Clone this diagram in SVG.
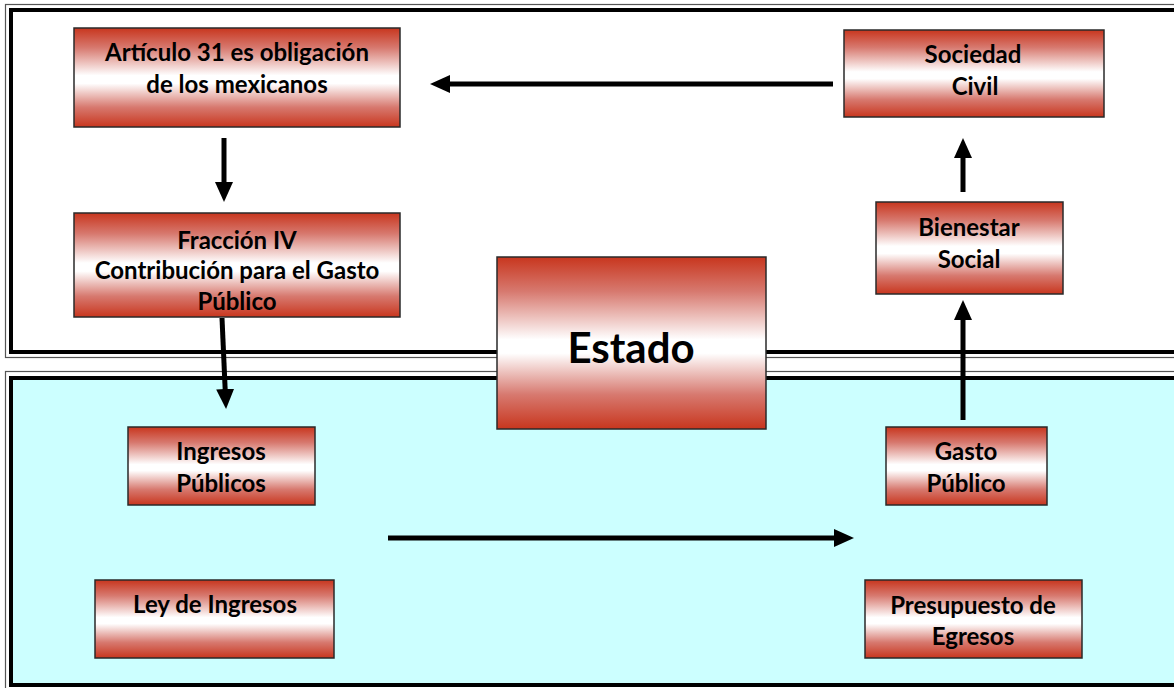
<svg xmlns="http://www.w3.org/2000/svg" width="1174" height="688" viewBox="0 0 1174 688">
<defs>
<linearGradient id="rg" x1="0" y1="0" x2="0" y2="1">
<stop offset="0" stop-color="#C8361E"/>
<stop offset="0.2" stop-color="#D7796F"/>
<stop offset="0.48" stop-color="#FFFFFF"/>
<stop offset="0.56" stop-color="#FFFFFF"/>
<stop offset="0.8" stop-color="#D7796F"/>
<stop offset="1" stop-color="#C8361E"/>
</linearGradient>
<marker id="ah" viewBox="0 0 20 18" markerWidth="20" markerHeight="18" refX="10" refY="9" orient="auto" markerUnits="userSpaceOnUse">
<path d="M0,0 L20,9 L0,18 z" fill="#000"/>
</marker>
</defs>
<style>
.box{fill:url(#rg);stroke:#2a2a2a;stroke-width:1.5}
.t{font-family:Lato,"Open Sans","Liberation Sans",sans-serif;font-weight:bold;font-size:24px;fill:#000;text-anchor:middle}
.big{font-size:42px}
.con{stroke:#000;stroke-width:5;fill:none;marker-end:url(#ah)}
.thin{fill:none;stroke:#555;stroke-width:1.2}
.thick{stroke:#000;stroke-width:4}
</style>
<rect width="1174" height="688" fill="#fff"/>
<g id="frames">
<rect class="thin" x="5.5" y="4.5" width="1180" height="353"/>
<rect class="thick" x="11" y="10" width="1180" height="342" fill="#fff"/>
<rect class="thin" x="5.5" y="371.5" width="1180" height="330"/>
<rect class="thick" x="11" y="378" width="1180" height="307" fill="#CCFFFF"/>
</g>
<g id="connectors">
<line class="con" x1="833" y1="84" x2="440" y2="84"/>
<line class="con" x1="224" y1="138" x2="224" y2="192"/>
<line class="con" x1="222" y1="318" x2="225.6" y2="399"/>
<line class="con" x1="388" y1="538" x2="844" y2="538"/>
<line class="con" x1="963" y1="420" x2="963" y2="310"/>
<line class="con" x1="963" y1="192" x2="963" y2="148"/>
</g>
<g id="articulo31">
<rect class="box" x="74" y="28" width="326" height="99"/>
<text class="t" x="237" y="61">Artículo 31 es obligación</text>
<text class="t" x="237" y="93">de los mexicanos</text>
</g>
<g id="sociedad-civil">
<rect class="box" x="844" y="30" width="260" height="87"/>
<text class="t" x="973" y="63">Sociedad</text>
<text class="t" x="975" y="95">Civil</text>
</g>
<g id="fraccion-iv">
<rect class="box" x="74" y="213" width="326" height="104"/>
<text class="t" x="237" y="249">Fracción IV</text>
<text class="t" x="237" y="279">Contribución para el Gasto</text>
<text class="t" x="237" y="310">Público</text>
</g>
<g id="estado">
<rect class="box" x="497" y="257" width="269" height="172"/>
<text class="t big" x="631" y="363">Estado</text>
</g>
<g id="bienestar-social">
<rect class="box" x="876" y="202" width="187" height="92"/>
<text class="t" x="969" y="236">Bienestar</text>
<text class="t" x="969" y="268">Social</text>
</g>
<g id="ingresos-publicos">
<rect class="box" x="128" y="427" width="187" height="78"/>
<text class="t" x="221" y="460">Ingresos</text>
<text class="t" x="221" y="492">Públicos</text>
</g>
<g id="gasto-publico">
<rect class="box" x="886" y="427" width="161" height="78"/>
<text class="t" x="966" y="460">Gasto</text>
<text class="t" x="966" y="492">Público</text>
</g>
<g id="ley-de-ingresos">
<rect class="box" x="95" y="580" width="239" height="78"/>
<text class="t" x="215" y="613">Ley de Ingresos</text>
</g>
<g id="presupuesto-egresos">
<rect class="box" x="865" y="580" width="217" height="78"/>
<text class="t" x="973" y="614">Presupuesto de</text>
<text class="t" x="973" y="645">Egresos</text>
</g>
</svg>
